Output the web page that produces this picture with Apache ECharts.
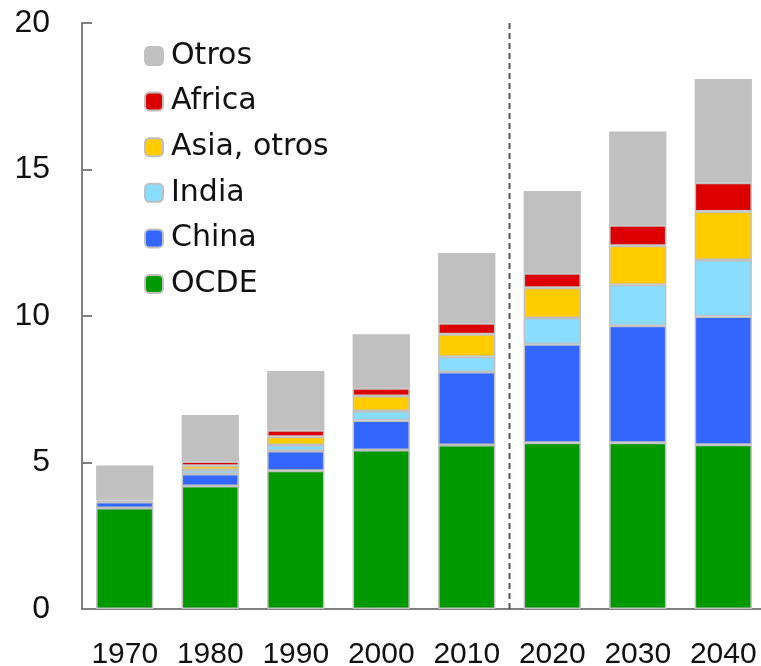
<!DOCTYPE html>
<html>
<head>
<meta charset="utf-8">
<script src="https://cdn.jsdelivr.net/npm/echarts@6/dist/echarts.min.js"></script>
<style>
  html, body { margin: 0; padding: 0; background: #fff; }
  #chart { width: 761px; height: 666px; }
</style>
</head>
<body>
<div id="chart"></div>
<script>
// datos
var years = ['1970', '1980', '1990', '2000', '2010', '2020', '2030', '2040'];
var ocde   = [3.45, 4.20, 4.72, 5.43, 5.60, 5.67, 5.67, 5.61];
var china  = [0.20, 0.41, 0.67, 1.00, 2.49, 3.37, 4.00, 4.37];
var india  = [0.05, 0.13, 0.21, 0.33, 0.52, 0.89, 1.40, 1.93];
var asia   = [0.08, 0.15, 0.28, 0.51, 0.77, 1.03, 1.33, 1.66];
var africa = [0.02, 0.14, 0.22, 0.26, 0.37, 0.50, 0.70, 0.98];
var otros  = [1.10, 1.59, 2.02, 1.85, 2.40, 2.81, 3.20, 3.54];
var yTicks = [0, 5, 10, 15, 20];
// separación entre datos históricos y proyecciones (entre 2010 y 2020)
var divisor = [[5, 0], [5, 20]];

var fuenteEje = '"Liberation Sans", Arial, sans-serif';

var chart = echarts.init(document.getElementById('chart'));

function serie(name, data, color) {
    return {
        name: name,
        type: 'bar',
        stack: 'total',
        barWidth: '67%',
        data: data,
        itemStyle: { color: color, borderColor: '#c0c0c0', borderWidth: 1.5 }
    };
}

var series = [
    serie('OCDE', ocde, '#009900'),
    serie('China', china, '#3366ff'),
    serie('India', india, '#88ddff'),
    serie('Asia, otros', asia, '#ffcc00'),
    serie('Africa', africa, '#dd0000'),
    serie('Otros', otros, '#c0c0c0'),
    {
        name: 'divisor',
        type: 'line',
        xAxisIndex: 1,
        data: divisor,
        symbol: 'none',
        silent: true,
        z: 1,
        lineStyle: { color: '#555', type: [6, 4], width: 2 }
    }
];

var option = {
    animation: false,
    grid: { left: 82, top: 23, bottom: 57, right: -5, outerBoundsMode: 'none', containLabel: false },
    legend: {
        orient: 'vertical',
        left: 144,
        top: 41,
        padding: 0,
        itemWidth: 18,
        itemHeight: 18,
        itemGap: 15.6,
        textStyle: { fontSize: 30, color: '#111', fontFamily: '"DejaVu Sans"', padding: [0, 0, 0, 3] },
        data: ['Otros', 'Africa', 'Asia, otros', 'India', 'China', 'OCDE']
    },
    xAxis: [{
        type: 'category',
        data: years,
        axisLine: { lineStyle: { color: '#808080', width: 2 } },
        axisTick: { show: false },
        axisLabel: { fontSize: 30, color: '#111', margin: 31, interval: 0, hideOverlap: false, fontFamily: fuenteEje }
    }, {
        type: 'value',
        min: 0,
        max: years.length,
        show: false
    }],
    yAxis: {
        type: 'value',
        min: yTicks[0],
        max: yTicks[yTicks.length - 1],
        interval: 5,
        axisLine: { show: true, lineStyle: { color: '#808080', width: 2 } },
        axisTick: { show: true, inside: true, length: 10, lineStyle: { color: '#808080', width: 2 } },
        splitLine: { show: false },
        axisLabel: { fontSize: 32, color: '#111', margin: 32, fontFamily: fuenteEje }
    },
    series: series
};

chart.setOption(option);
</script>
</body>
</html>
